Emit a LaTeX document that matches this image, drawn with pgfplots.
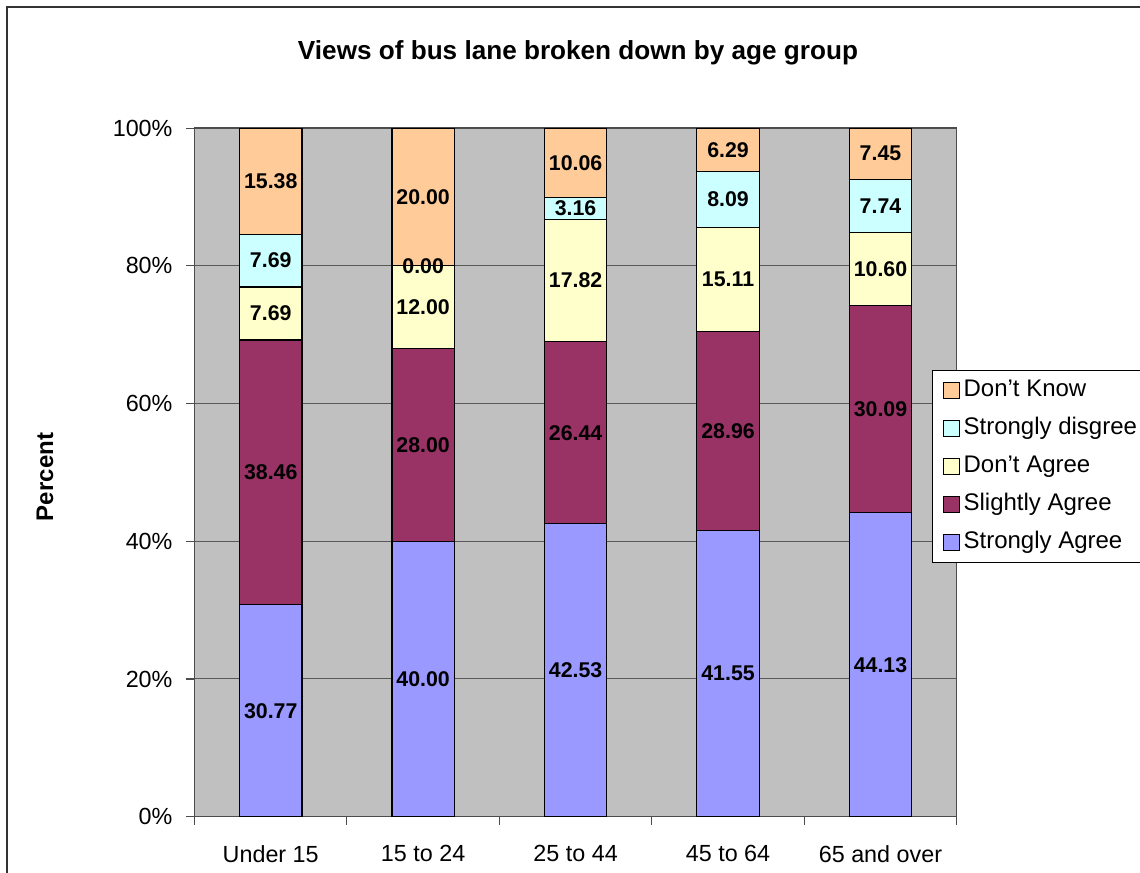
\documentclass[border=0pt]{standalone}
\usepackage{pgfplots}
\usepackage{pgfplotstable}
\pgfplotsset{compat=1.18}
\usepackage{fontspec}
\setmainfont{Liberation Sans}

\definecolor{sagree}{HTML}{9999FF}
\definecolor{slagree}{HTML}{993366}
\definecolor{dagree}{HTML}{FFFFCC}
\definecolor{sdis}{HTML}{CCFFFF}
\definecolor{dknow}{HTML}{FFCC99}
\definecolor{plotbg}{HTML}{C0C0C0}

% share of respondents (%), per age group
\pgfplotstableread{
x sa sl da sd dk
0 30.77 38.46 7.69 7.69 15.38
1 40.00 28.00 12.00 0.00 20.00
2 42.53 26.44 17.82 3.16 10.06
3 41.55 28.96 15.11 8.09 6.29
4 44.13 30.09 10.60 7.74 7.45
}\views

\pgfplotsset{
    frame/.style={
        at={(145.875pt,42.225pt)}, anchor=south west,
        scale only axis,
        width=571.65pt, height=516.5pt,
        ybar stacked,
        bar width=0.41,
        xmin=-0.5, xmax=4.5,
        ymin=0, ymax=100.02,
        enlargelimits=false,
        /pgf/number format/assume math mode=true,
    },
}

\begin{document}
\begin{tikzpicture}
\useasboundingbox (0,0) rectangle (855pt,654.75pt);
\draw[line width=1.1pt, black!80] (5.25pt,0) -- (5.25pt,649.5pt) -- (855pt,649.5pt);
\node[font=\bfseries\fontsize{19.6}{22}\selectfont] at (433.5pt,615pt)
  {Views of bus lane broken down by age group};
\node[font=\bfseries\fontsize{18}{20}\selectfont, rotate=90] at (33.75pt,297pt) {Percent};

% bars, axes and legend
\begin{axis}[
    frame,
    axis background/.style={fill=plotbg},
    axis line style={black!70, line width=0.8pt},
    ymajorgrids,
    major grid style={black!65, line width=0.75pt},
    tick pos=left,
    tick align=outside,
    major tick length=6pt,
    minor tick length=6pt,
    tick style={black!70, line width=0.8pt},
    xtick={0,...,4},
    xticklabels={Under 15, 15 to 24, 25 to 44, 45 to 64, 65 and over},
    major x tick style={draw=none},
    minor xtick={-0.5,0.5,...,4.5},
    ytick={0,20,...,100},
    yticklabel={\pgfmathprintnumber{\tick}\%},
    ticklabel style={font=\fontsize{17.5}{20}\selectfont},
    xticklabel style={yshift=-12pt},
    yticklabel style={xshift=-7pt},
    legend style={
        at={(0.9676,0.6486)}, anchor=north west,
        draw=black, fill=white, line width=0.6pt,
        font=\fontsize{18}{20}\selectfont,
        row sep=8.5pt, inner sep=5pt,
        nodes={inner sep=2pt, text height=12.5pt, text depth=3.5pt, anchor=west},
        cells={anchor=west},
    },
    reverse legend,
    seg/.style={
        fill=#1, draw=black, line width=0.9pt,
        legend image code/.code={
            \path (0pt,0pt) (15.5pt,0pt);
            \draw[fill=#1, draw=black, line width=0.6pt] (2.5pt,-6pt) rectangle (14.5pt,6pt);},
    },
]
\addplot[seg=sagree] table[x=x, y=sa] {\views};
\addplot[seg=slagree] table[x=x, y=sl] {\views};
\addplot[seg=dagree] table[x=x, y=da] {\views};
\addplot[seg=sdis] table[x=x, y=sd] {\views};
\addplot[seg=dknow] table[x=x, y=dk] {\views};
\legend{Strongly Agree, Slightly Agree, Don't Agree, Strongly disgree, Don't Know}
\end{axis}

% value labels, drawn over all bars
\begin{axis}[
    frame,
    hide axis,
    stacked ignores zero=false,
    point meta=explicit,
    nodes near coords={\pgfmathprintnumber[fixed,fixed zerofill,precision=2]{\pgfplotspointmeta}},
    every node near coord/.append style={
        anchor=center, text=black,
        font=\bfseries\fontsize{16}{18}\selectfont,
    },
    lblbar/.style={draw=none, fill=none},
]
\addplot[lblbar] table[x=x, y=sa, meta=sa] {\views};
\addplot[lblbar] table[x=x, y=sl, meta=sl] {\views};
\addplot[lblbar] table[x=x, y=da, meta=da] {\views};
\addplot[lblbar] table[x=x, y=sd, meta=sd] {\views};
\addplot[lblbar] table[x=x, y=dk, meta=dk] {\views};
\end{axis}
\end{tikzpicture}
\end{document}
